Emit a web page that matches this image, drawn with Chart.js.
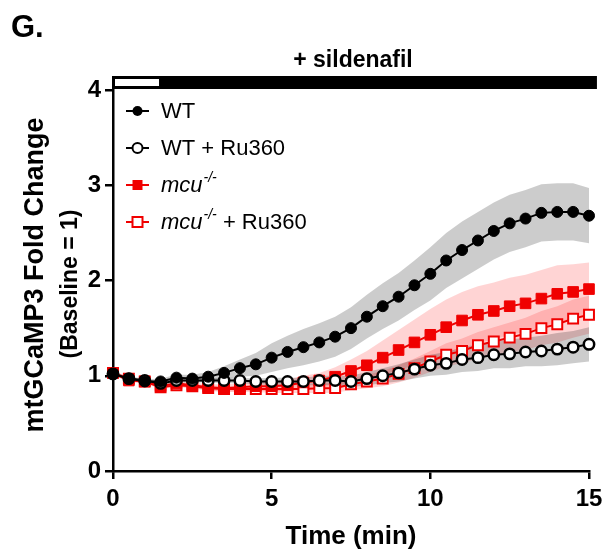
<!DOCTYPE html>
<html>
<head>
<meta charset="utf-8">
<script src="https://cdn.jsdelivr.net/npm/chart.js@4.4.1/dist/chart.umd.min.js"></script>
<style>
  html, body { margin: 0; padding: 0; background: #fff; }
  #wrap { width: 605px; height: 554px; }
</style>
</head>
<body>
<div id="wrap"><canvas id="chart" width="605" height="554"></canvas></div>
<script>
// time points (min)
const times = [0, 0.5, 1, 1.5, 2, 2.5, 3, 3.5, 4, 4.5, 5, 5.5, 6, 6.5, 7, 7.5,
  8, 8.5, 9, 9.5, 10, 10.5, 11, 11.5, 12, 12.5, 13, 13.5, 14, 14.5, 15];

const seriesNames = ['WT', 'WT + Ru360', 'mcu-/-', 'mcu-/- + Ru360'];

// mean fold change
const wt = [1.02, 0.97, 0.94, 0.94, 0.98, 0.97, 0.99, 1.03, 1.08, 1.12, 1.19, 1.25, 1.30, 1.35, 1.41, 1.50,
  1.62, 1.73, 1.83, 1.95, 2.07, 2.21, 2.32, 2.42, 2.52, 2.60, 2.65, 2.71, 2.72, 2.72, 2.68];
const wtRu = [1.02, 0.97, 0.95, 0.92, 0.95, 0.95, 0.95, 0.95, 0.95, 0.94, 0.94, 0.94, 0.94, 0.95, 0.95, 0.94,
  0.97, 1.00, 1.03, 1.07, 1.11, 1.13, 1.17, 1.19, 1.22, 1.23, 1.25, 1.26, 1.28, 1.30, 1.33];
const mcu = [1.03, 0.95, 0.94, 0.89, 0.92, 0.90, 0.88, 0.87, 0.88, 0.89, 0.89, 0.90, 0.93, 0.95, 0.99, 1.05,
  1.11, 1.19, 1.27, 1.35, 1.43, 1.51, 1.58, 1.64, 1.68, 1.73, 1.76, 1.81, 1.86, 1.88, 1.91];
const mcuRu = [1.03, 0.97, 0.94, 0.88, 0.90, 0.89, 0.87, 0.86, 0.86, 0.86, 0.86, 0.86, 0.86, 0.87, 0.87, 0.91,
  0.94, 0.97, 1.02, 1.08, 1.15, 1.22, 1.26, 1.32, 1.36, 1.40, 1.44, 1.50, 1.54, 1.60, 1.64];

// SEM
const wtSem = [0.02, 0.02, 0.02, 0.03, 0.03, 0.04, 0.05, 0.07, 0.09, 0.12, 0.15, 0.17, 0.19, 0.20, 0.21, 0.22,
  0.23, 0.24, 0.25, 0.26, 0.28, 0.29, 0.30, 0.30, 0.30, 0.30, 0.30, 0.30, 0.30, 0.30, 0.29];
const wtRuSem = [0.02, 0.02, 0.02, 0.02, 0.02, 0.02, 0.02, 0.03, 0.03, 0.03, 0.04, 0.04, 0.04, 0.05, 0.05, 0.06,
  0.07, 0.08, 0.09, 0.10, 0.11, 0.12, 0.13, 0.14, 0.14, 0.15, 0.15, 0.16, 0.17, 0.17, 0.18];
const mcuSem = [0.02, 0.02, 0.02, 0.02, 0.03, 0.03, 0.03, 0.04, 0.04, 0.05, 0.05, 0.06, 0.07, 0.08, 0.10, 0.12,
  0.15, 0.18, 0.21, 0.24, 0.27, 0.29, 0.30, 0.30, 0.30, 0.30, 0.30, 0.30, 0.30, 0.29, 0.28];
const mcuRuSem = [0.02, 0.02, 0.02, 0.02, 0.02, 0.02, 0.03, 0.03, 0.03, 0.03, 0.04, 0.04, 0.04, 0.05, 0.05, 0.06,
  0.07, 0.08, 0.09, 0.10, 0.11, 0.12, 0.13, 0.14, 0.15, 0.16, 0.17, 0.18, 0.19, 0.20, 0.20];

const xTicks = [0, 5, 10, 15];
const yTicks = [0, 1, 2, 3, 4];

// sildenafil bar (min)
const barSwitch = 1.45;
const barEnd = 15.25;

const FONT = '"Liberation Sans", Arial, Helvetica, sans-serif';
const RED = 'rgb(240,0,0)';

const pts = arr => times.map((t, i) => ({ x: t, y: arr[i] }));
const edge = (m, s, k) => times.map((t, i) => ({ x: t, y: m[i] + k * s[i] }));

function bandPair(m, s, color) {
  return [
    { data: edge(m, s, 1), pointRadius: 0, borderWidth: 0, fill: false },
    { data: edge(m, s, -1), pointRadius: 0, borderWidth: 0, fill: '-1', backgroundColor: color }
  ];
}

const decor = {
  id: 'decor',
  afterDraw(chart) {
    const { ctx } = chart;
    const x = chart.scales.x, y = chart.scales.y;
    ctx.save();
    ctx.fillStyle = '#000';

    ctx.font = 'bold 31px ' + FONT;
    ctx.textAlign = 'left';
    ctx.textBaseline = 'alphabetic';
    ctx.fillText('G.', 11, 37);

    ctx.font = 'bold 23px ' + FONT;
    ctx.textAlign = 'center';
    ctx.fillText('+ sildenafil', (x.left + x.right) / 2 + 2, 67);

    // treatment bar
    const top = y.getPixelForValue(4) - 14;
    const x0 = x.getPixelForValue(0) - 1;
    const x1 = x.getPixelForValue(barSwitch);
    const x2 = x.getPixelForValue(barEnd);
    ctx.fillStyle = '#000';
    ctx.fillRect(x0, top, x2 - x0, 13);
    ctx.fillStyle = '#fff';
    ctx.fillRect(x0 + 3, top + 3, x1 - x0 - 3, 7);

    // y title, two lines
    ctx.fillStyle = '#000';
    ctx.textBaseline = 'middle';
    ctx.save();
    ctx.translate(36, 275);
    ctx.rotate(-Math.PI / 2);
    ctx.font = 'bold 27px ' + FONT;
    ctx.fillText('mtGCaMP3 Fold Change', 0, 0);
    ctx.restore();
    ctx.save();
    ctx.translate(71, 284);
    ctx.rotate(-Math.PI / 2);
    ctx.font = 'bold 23px ' + FONT;
    ctx.fillText('(Baseline = 1)', 0, 0);
    ctx.restore();

    // legend
    const rows = [111, 148, 185, 222];
    const colors = ['#000', '#000', RED, RED];
    seriesNames.forEach((name, i) => {
      const ry = rows[i];
      ctx.strokeStyle = colors[i];
      ctx.lineWidth = 2;
      ctx.beginPath();
      ctx.moveTo(126, ry);
      ctx.lineTo(149, ry);
      ctx.stroke();
      ctx.beginPath();
      if (i < 2) ctx.arc(137.5, ry, 5, 0, Math.PI * 2);
      else ctx.rect(132.5, ry - 5, 10, 10);
      ctx.fillStyle = (i % 2 === 0) ? colors[i] : '#fff';
      ctx.fill();
      if (i % 2 === 1) { ctx.lineWidth = 2; ctx.stroke(); }

      ctx.fillStyle = '#000';
      ctx.textAlign = 'left';
      let tx = 161;
      if (name.startsWith('mcu')) {
        ctx.font = 'italic 22px ' + FONT;
        ctx.fillText('mcu', tx, ry + 1);
        tx += ctx.measureText('mcu').width + 1;
        ctx.font = 'italic 14px ' + FONT;
        ctx.fillText('-/-', tx, ry - 7);
        tx += ctx.measureText('-/-').width;
        const rest = name.slice(6);
        ctx.font = '22px ' + FONT;
        if (rest) ctx.fillText(rest, tx, ry + 1);
      } else {
        ctx.font = '22px ' + FONT;
        ctx.fillText(name, tx, ry + 1);
      }
    });
    ctx.restore();
  }
};

new Chart(document.getElementById('chart'), {
  type: 'line',
  data: {
    datasets: [
      { label: seriesNames[0], data: pts(wt), borderColor: '#000', borderWidth: 2,
        pointStyle: 'circle', pointRadius: 5.5, pointBackgroundColor: '#000', pointBorderColor: '#000', pointBorderWidth: 1 },
      { label: seriesNames[1], data: pts(wtRu), borderColor: '#000', borderWidth: 2,
        pointStyle: 'circle', pointRadius: 5.2, pointBackgroundColor: '#fff', pointBorderColor: '#000', pointBorderWidth: 2.5 },
      { label: seriesNames[2], data: pts(mcu), borderColor: RED, borderWidth: 2,
        pointStyle: 'rect', pointRadius: 7.5, pointBackgroundColor: RED, pointBorderColor: RED, pointBorderWidth: 1 },
      { label: seriesNames[3], data: pts(mcuRu), borderColor: RED, borderWidth: 2,
        pointStyle: 'rect', pointRadius: 7, pointBackgroundColor: '#fff', pointBorderColor: RED, pointBorderWidth: 2 },
      ...bandPair(wt, wtSem, 'rgba(0,0,0,0.2)'),
      ...bandPair(wtRu, wtRuSem, 'rgba(0,0,0,0.2)'),
      ...bandPair(mcu, mcuSem, 'rgba(255,0,0,0.17)'),
      ...bandPair(mcuRu, mcuRuSem, 'rgba(255,0,0,0.17)')
    ]
  },
  options: {
    responsive: false,
    animation: false,
    clip: false,
    layout: { padding: { top: 90, right: 16, left: 0, bottom: 0 } },
    elements: { line: { tension: 0 } },
    plugins: {
      legend: { display: false },
      tooltip: { enabled: false }
    },
    scales: {
      x: {
        type: 'linear', min: 0, max: 15,
        afterFit: s => { s.height = 83; s.paddingLeft = 0; s.paddingRight = 0; },
        afterBuildTicks: s => { s.ticks = xTicks.map(v => ({ value: v })); },
        ticks: { color: '#000', padding: 6, maxRotation: 0, minRotation: 0,
          font: { family: FONT, size: 24, weight: 'bold' } },
        grid: { drawOnChartArea: false, drawTicks: true, tickLength: 8, color: '#000', lineWidth: 2.5 },
        border: { color: '#000', width: 2.5 },
        title: { display: true, text: 'Time (min)', color: '#000', padding: { top: 0, bottom: 2 },
          font: { family: FONT, size: 26, weight: 'bold' } }
      },
      y: {
        min: 0, max: 4,
        afterFit: s => { s.width = 113; s.paddingTop = 0; s.paddingBottom = 0; },
        afterBuildTicks: s => { s.ticks = yTicks.map(v => ({ value: v })); },
        ticks: { color: '#000', padding: 4, font: { family: FONT, size: 24, weight: 'bold' } },
        grid: { drawOnChartArea: false, drawTicks: true, tickLength: 8, color: '#000', lineWidth: 2.5 },
        border: { color: '#000', width: 2.5 }
      }
    }
  },
  plugins: [decor]
});
</script>
</body>
</html>
